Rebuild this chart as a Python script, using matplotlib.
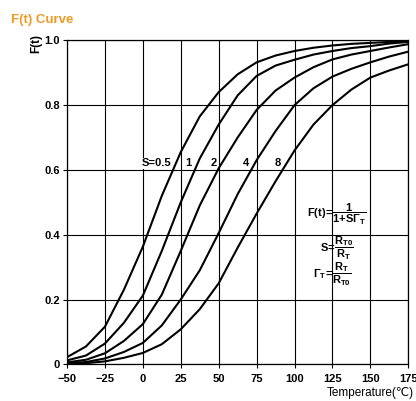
import matplotlib
matplotlib.use("Agg")
import matplotlib.pyplot as plt

plt.rcParams['font.family'] = ['Liberation Sans', 'DejaVu Sans']
plt.rcParams['mathtext.fontset'] = 'custom'
plt.rcParams['mathtext.rm'] = 'Liberation Sans:bold'
plt.rcParams['mathtext.bf'] = 'Liberation Sans:bold'
plt.rcParams['mathtext.it'] = 'Liberation Sans:bold'

temps = [-50, -37.5, -25, -12.5, 0, 12.5, 25, 37.5, 50, 62.5, 75, 87.5,
         100, 112.5, 125, 137.5, 150, 162.5, 175]

# F(t) for each S value
f_s05 = [0.022, 0.055, 0.116, 0.23, 0.363, 0.52, 0.655, 0.765, 0.84, 0.895,
         0.932, 0.953, 0.967, 0.977, 0.984, 0.989, 0.992, 0.995, 0.997]
f_s1 = [0.012, 0.027, 0.064, 0.128, 0.212, 0.35, 0.5, 0.635, 0.74, 0.83,
        0.89, 0.922, 0.94, 0.956, 0.967, 0.976, 0.982, 0.99, 0.995]
f_s2 = [0.006, 0.014, 0.034, 0.072, 0.124, 0.215, 0.35, 0.49, 0.605, 0.7,
        0.785, 0.845, 0.885, 0.917, 0.941, 0.956, 0.967, 0.978, 0.988]
f_s4 = [0.003, 0.007, 0.018, 0.038, 0.066, 0.12, 0.2, 0.29, 0.405, 0.525,
        0.63, 0.72, 0.8, 0.852, 0.888, 0.912, 0.932, 0.95, 0.965]
f_s8 = [0.0015, 0.0035, 0.009, 0.02, 0.035, 0.062, 0.108, 0.17, 0.25, 0.36,
        0.465, 0.565, 0.66, 0.74, 0.8, 0.848, 0.885, 0.907, 0.926]

curve_labels = ['S=0.5', '1', '2', '4', '8']
label_temps = [8.8, 29.7, 46.8, 68.2, 89]
label_level = 0.62

xticks = [-50, -25, 0, 25, 50, 75, 100, 125, 150, 175]
yticks = [0, 0.2, 0.4, 0.6, 0.8, 1.0]
ytick_labels = ['0', '0.2', '0.4', '0.6', '0.8', '1.0']

fig = plt.figure(figsize=(4.16, 4.01), dpi=100)
ax = fig.add_axes([67 / 416, 1 - 364.3 / 401, 341.3 / 416, 324 / 401])

for f in [f_s05, f_s1, f_s2, f_s4, f_s8]:
    ax.plot(temps, f, color='black', lw=1.5, solid_joinstyle='round', zorder=3)

for lab, t in zip(curve_labels, label_temps):
    ax.text(t, label_level, lab, ha='center', va='center', fontsize=8,
            fontweight='bold', zorder=4,
            bbox=dict(facecolor='white', edgecolor='none', pad=0.3))

# formulas
ax.text(128, 0.463, r'$F(t)\!=\!\dfrac{1}{1\!+\!S\Gamma_T}$', ha='center',
        va='center', fontsize=8, zorder=4)
ax.text(127.7, 0.356, r'$S\!=\!\dfrac{R_{T0}}{R_T}$', ha='center',
        va='center', fontsize=8, zorder=4)
ax.text(125, 0.276, r'$\Gamma_T\!=\!\dfrac{R_T}{R_{T0}}$', ha='center',
        va='center', fontsize=8, zorder=4)

ax.set_xlim(-50, 175)
ax.set_ylim(0, 1)
ax.set_xticks(xticks)
ax.set_yticks(yticks)
ax.set_yticklabels(ytick_labels)
ax.grid(True, color='black', lw=0.8)
ax.tick_params(direction='out', length=3, width=0.8, pad=2, labelsize=8)
ax.tick_params(axis='x', pad=4)
for lab in ax.get_xticklabels() + ax.get_yticklabels():
    lab.set_fontweight('bold')
for sp in ax.spines.values():
    sp.set_linewidth(0.9)

ax.text(-0.091, 0.99, 'F(t)', transform=ax.transAxes, rotation=90,
        ha='center', va='center', fontsize=8.5, fontweight='bold')

fig.text(11 / 416, 1 - 19.5 / 401, 'F(t) Curve', ha='left', va='center',
         fontsize=9.5, fontweight='bold', color='#EE9A22')
fig.text(0.995, 1 - 392.7 / 401, 'Temperature(℃)', ha='right', va='center',
         fontsize=8.5)

fig.savefig('out.png', dpi=100)
